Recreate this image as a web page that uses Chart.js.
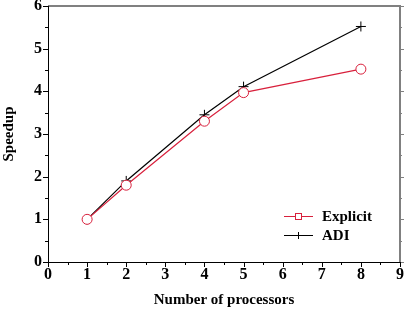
<!DOCTYPE html>
<html><head><meta charset="utf-8">
<script src="https://cdn.jsdelivr.net/npm/chart.js@4/dist/chart.umd.min.js"></script>
<style>html,body{margin:0;padding:0;background:#fff}#w{width:406px;height:311px}</style>
</head><body><div id="w"><canvas id="c" width="406" height="311"></canvas></div>
<script>
const processors = [1, 2, 4, 5, 8];
const explicitSpeedup = [1.0, 1.80, 3.30, 3.97, 4.52];
const adiSpeedup = [1.0, 1.90, 3.45, 4.11, 5.52];
const seriesNames = ['Explicit', 'ADI'];
const xTicks = [0,1,2,3,4,5,6,7,8,9];
const yTicks = [0,1,2,3,4,5,6];

const RED = '#d8203c';
const FONT = '"Liberation Serif", "Times New Roman", serif';

const framePlugin = {
  id: 'frame',
  afterDraw(chart) {
    const ctx = chart.ctx, a = chart.chartArea;
    const xs = chart.scales.x, ys = chart.scales.y;
    ctx.save();
    ctx.strokeStyle = '#808080';
    ctx.lineWidth = 2;
    ctx.beginPath();
    ctx.moveTo(a.left, a.top); ctx.lineTo(a.right, a.top); ctx.lineTo(a.right, a.bottom);
    ctx.stroke();
    ctx.lineWidth = 1;
    for (let v = 0; v <= 6; v += 0.5) {
      const y = Math.round(ys.getPixelForValue(v)) + 0.5;
      const len = (v % 1 === 0) ? 4 : 2;
      ctx.beginPath(); ctx.moveTo(a.right, y); ctx.lineTo(a.right + len, y); ctx.stroke();
    }
    ctx.strokeStyle = '#000';
    ctx.lineWidth = 1;
    ctx.beginPath();
    ctx.moveTo(a.left + 0.5, a.top); ctx.lineTo(a.left + 0.5, a.bottom + 0.5); ctx.lineTo(a.right, a.bottom + 0.5);
    ctx.stroke();
    for (let v = 0; v <= 9; v += 0.5) {
      const x = Math.round(xs.getPixelForValue(v)) + 0.5;
      const len = (v % 1 === 0) ? 5 : 3;
      ctx.beginPath(); ctx.moveTo(x, a.bottom); ctx.lineTo(x, a.bottom + len); ctx.stroke();
    }
    for (let v = 0; v <= 6; v += 0.5) {
      const y = Math.round(ys.getPixelForValue(v)) + 0.5;
      const len = (v % 1 === 0) ? 5 : 3;
      ctx.beginPath(); ctx.moveTo(a.left, y); ctx.lineTo(a.left - len, y); ctx.stroke();
    }
    // legend
    const lx = 284, ly1 = 216, ly2 = 235;
    ctx.lineWidth = 1;
    ctx.strokeStyle = RED;
    ctx.beginPath(); ctx.moveTo(lx, ly1 + 0.5); ctx.lineTo(lx + 29, ly1 + 0.5); ctx.stroke();
    ctx.fillStyle = '#fff';
    ctx.fillRect(lx + 11, ly1 - 3, 7, 7);
    ctx.strokeRect(lx + 11.5, ly1 - 2.5, 6, 6);
    ctx.strokeStyle = '#000';
    ctx.beginPath(); ctx.moveTo(lx, ly2 + 0.5); ctx.lineTo(lx + 29, ly2 + 0.5); ctx.stroke();
    ctx.beginPath(); ctx.moveTo(lx + 14.5, ly2 - 3); ctx.lineTo(lx + 14.5, ly2 + 4); ctx.stroke();
    ctx.fillStyle = '#000';
    ctx.font = 'bold 15px ' + FONT;
    ctx.textBaseline = 'middle';
    ctx.textAlign = 'left';
    ctx.fillText(seriesNames[0], lx + 38, ly1 + 1);
    ctx.fillText(seriesNames[1], lx + 38, ly2 + 1);
    ctx.restore();
  }
};

new Chart(document.getElementById('c'), {
  type: 'line',
  data: {
    datasets: [
      {
        label: seriesNames[0],
        data: processors.map((p, i) => ({x: p, y: explicitSpeedup[i]})),
        borderColor: RED, borderWidth: 1.2,
        pointStyle: 'circle', pointRadius: 5, pointBorderWidth: 1,
        pointBorderColor: RED, pointBackgroundColor: '#fff', tension: 0
      },
      {
        label: seriesNames[1],
        data: processors.map((p, i) => ({x: p, y: adiSpeedup[i]})),
        borderColor: '#000', borderWidth: 1.2,
        pointStyle: 'cross', pointRadius: 5, pointBorderWidth: 1,
        pointBorderColor: '#000', pointBackgroundColor: '#000', tension: 0
      }
    ]
  },
  options: {
    responsive: false, animation: false,
    layout: { padding: { top: 6, right: 4, left: 0, bottom: 0 } },
    plugins: { legend: { display: false }, tooltip: { enabled: false } },
    scales: {
      x: {
        type: 'linear', min: 0, max: 9,
        afterBuildTicks: s => { s.ticks = xTicks.map(v => ({value: v})); },
        grid: { display: false, drawTicks: false },
        border: { display: false },
        ticks: { color: '#000', font: { family: FONT, size: 16, weight: 'bold' }, padding: 3, maxRotation: 0 },
        title: { display: true, text: 'Number of processors', color: '#000',
                 font: { family: FONT, size: 15, weight: 'bold' }, padding: { top: 8, bottom: 2 } },
        afterFit: s => { s.height = 49; s.paddingLeft = 0; s.paddingRight = 0; }
      },
      y: {
        type: 'linear', min: 0, max: 6,
        afterBuildTicks: s => { s.ticks = yTicks.map(v => ({value: v})); },
        grid: { display: false, drawTicks: false },
        border: { display: false },
        ticks: { color: '#000', font: { family: FONT, size: 16, weight: 'bold' }, padding: 6 },
        title: { display: true, text: 'Speedup', color: '#000',
                 font: { family: FONT, size: 15, weight: 'bold' }, padding: { top: 0, bottom: 8 } },
        afterFit: s => { s.width = 48; s.paddingTop = 0; s.paddingBottom = 0; }
      }
    }
  },
  plugins: [framePlugin]
});
</script>
</body></html>
